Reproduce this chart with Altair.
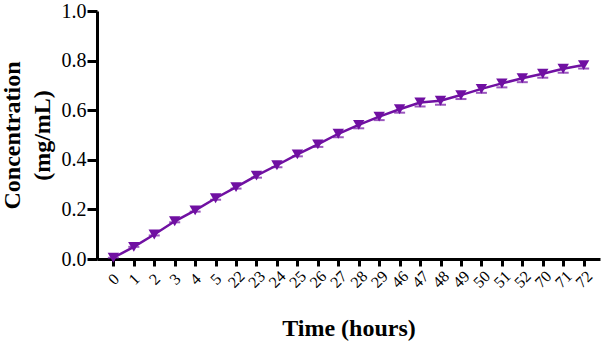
import altair as alt
import pandas as pd

hours = ["0", "1", "2", "3", "4", "5", "22", "23", "24", "25", "26", "27",
         "28", "29", "46", "47", "48", "49", "50", "51", "52", "70", "71", "72"]
conc = [0.005, 0.049, 0.099, 0.152, 0.196, 0.245, 0.290, 0.336, 0.378, 0.422,
        0.462, 0.505, 0.541, 0.574, 0.604, 0.631, 0.638, 0.661, 0.686, 0.708,
        0.729, 0.747, 0.767, 0.782]
err = [0.0, 0.0, 0.004, 0.004, 0.005, 0.006, 0.006, 0.008, 0.008, 0.008,
       0.010, 0.014, 0.014, 0.014, 0.014, 0.016, 0.016, 0.016, 0.016, 0.016,
       0.016, 0.016, 0.016, 0.014]

df = pd.DataFrame({"hour": hours, "conc": conc, "err": err})
df["lo"] = df["conc"] - df["err"]
df["hi"] = df["conc"] + df["err"]

purple = "#7010A2"
FONT = "Liberation Serif"

x = alt.X("hour:O", sort=hours,
          scale=alt.Scale(type="point", padding=0.8),
          axis=alt.Axis(title="Time (hours)", labelAngle=-45, labelAlign="center",
                        labelBaseline="middle", labelPadding=13, labelFontSize=16,
                        labelFont=FONT, labelColor="black",
                        titleFont=FONT, titleFontSize=24, titleFontWeight="bold",
                        titleColor="black", titleY=76, titleBaseline="alphabetic",
                        domainWidth=3, domainColor="black", tickWidth=3,
                        tickColor="black", tickSize=7, grid=False))

y_scale = alt.Scale(domain=[0, 1.0], nice=False)

base = alt.Chart(df)

rules = base.mark_rule(color=purple, strokeWidth=1.5).encode(
    x=x, y=alt.Y("lo:Q", scale=y_scale), y2="hi:Q")
caps = base.mark_tick(color=purple, thickness=2, size=11, orient="horizontal").encode(
    x=x, y=alt.Y("lo:Q", scale=y_scale))
line = base.mark_line(color=purple, strokeWidth=2.5).encode(
    x=x,
    y=alt.Y("conc:Q", scale=y_scale,
            axis=alt.Axis(title=["Concentration", "(mg/mL)"], values=[0, 0.2, 0.4, 0.6, 0.8, 1.0],
                          format=".1f", labelFontSize=20, labelFont=FONT,
                          labelColor="black", labelPadding=1, labelFlush=False,
                          titleFont=FONT, titleFontSize=24, titleFontWeight="bold",
                          titleColor="black", titleX=-85, titleBaseline="middle",
                          titleLineHeight=30,
                          domainWidth=3, domainColor="black", tickWidth=3,
                          tickColor="black", tickSize=10, grid=False)))
pts = base.mark_point(shape="triangle-down", filled=True, size=130, color=purple,
                      opacity=1).encode(x=x, y=alt.Y("conc:Q", scale=y_scale))

chart = alt.layer(rules, caps, line, pts).properties(
    width=503, height=248,
    autosize=alt.AutoSizeParams(type="none"),
    padding={"left": 97, "top": 11, "right": 2, "bottom": 85},
    background="white",
).configure_view(stroke=None)

chart.save("out.html", embed_options={"renderer": "svg", "actions": False})
